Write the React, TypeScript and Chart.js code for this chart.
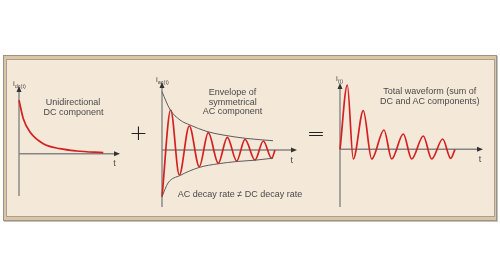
import React, { useEffect, useRef } from "react";
import { Chart, registerables } from "chart.js";

Chart.register(...registerables);

// ---------- DATA ----------
// Panel 1: unidirectional DC component
const dcTime = [0, 4.3, 11, 24.3, 41, 57.7, 84.3];
const dcCurrent = [53.4, 35, 21.7, 10, 5, 2.7, 1];

// Panel 2: symmetrical AC component and its envelope
const acTime = [0, 8.7, 17.3, 27.3, 37.3, 46.3, 56.3, 65.3, 74.7, 83, 93, 101.3, 109.7, 113];
const acCurrent = [-46.7, 40, -25, 24, -16.7, 17.3, -13.3, 12.7, -11, 10.7, -10, 9, -8.3, 0];
const envUpperTime = [0, 8, 18, 28, 45, 61, 85, 111];
const envUpper = [58.3, 40.5, 30, 25, 18.5, 15, 11.5, 9.3];
const envLowerTime = [0, 6, 18, 37, 56, 75, 93, 111];
const envLower = [-46.7, -33, -25.5, -17.5, -13.8, -11.5, -10.2, -8.2];

// Panel 3: total waveform
const totalTime = [0, 7.3, 13.3, 23.3, 31.7, 44, 51.7, 63.3, 71.7, 83.3, 91.7, 102.7, 110.7, 115];
const totalCurrent = [0, 64.3, -9.7, 38.6, -9.7, 19.3, -9.7, 15.3, -9.7, 13.3, -9.7, 10.3, -9, 0];

// Text
const dcText = ["Unidirectional", "DC component"];
const acText = ["Envelope of", "symmetrical", "AC component"];
const acNote = "AC decay rate \u2260 DC decay rate";
const totalText = ["Total waveform (sum of", "DC and AC components)"];

// ---------- STYLE ----------
const RED = "#d42020";
const ENV = "#5c5c5c";
const AXIS = "#858585";
const ARROW = "#333333";
const TEXT = "#4a4a4a";
const FONT = "'Liberation Sans', Arial, sans-serif";
const PAD = 6;

const pts = (xs: number[], ys: number[]) => xs.map((x, i) => ({ x, y: ys[i] }));

const axesPlugin = {
  id: "arrowAxes",
  beforeDatasetsDraw(chart: any) {
    const { ctx } = chart;
    const xs = chart.scales.x;
    const ys = chart.scales.y;
    const x0 = xs.getPixelForValue(0);
    const y0 = ys.getPixelForValue(0);
    const xEnd = xs.getPixelForValue(xs.max);
    const yTop = ys.getPixelForValue(ys.max);
    const yBot = ys.getPixelForValue(ys.min);
    ctx.save();
    ctx.strokeStyle = AXIS;
    ctx.lineWidth = 1.4;
    ctx.beginPath();
    ctx.moveTo(x0, yBot);
    ctx.lineTo(x0, yTop + 4);
    ctx.moveTo(x0, y0);
    ctx.lineTo(xEnd - 4, y0);
    ctx.stroke();
    ctx.fillStyle = ARROW;
    ctx.beginPath();
    ctx.moveTo(x0, yTop);
    ctx.lineTo(x0 - 2.5, yTop + 6);
    ctx.lineTo(x0 + 2.5, yTop + 6);
    ctx.closePath();
    ctx.fill();
    ctx.beginPath();
    ctx.moveTo(xEnd, y0);
    ctx.lineTo(xEnd - 6, y0 - 2.5);
    ctx.lineTo(xEnd - 6, y0 + 2.5);
    ctx.closePath();
    ctx.fill();
    ctx.restore();
  },
};

type PanelProps = {
  left: number;
  top: number;
  width: number;
  height: number;
  xMax: number;
  yMin: number;
  yMax: number;
  datasets: any[];
};

function Panel({ left, top, width, height, xMax, yMin, yMax, datasets }: PanelProps) {
  const ref = useRef<HTMLCanvasElement | null>(null);
  useEffect(() => {
    if (!ref.current) return;
    const chart = new Chart(ref.current, {
      type: "line",
      data: { datasets },
      options: {
        responsive: false,
        animation: false,
        layout: { padding: PAD },
        plugins: { legend: { display: false }, tooltip: { enabled: false } },
        events: [],
        scales: {
          x: { type: "linear", min: 0, max: xMax, display: false },
          y: { type: "linear", min: yMin, max: yMax, display: false },
        },
      },
      plugins: [axesPlugin],
    } as any);
    return () => chart.destroy();
  }, []);
  return (
    <canvas
      ref={ref}
      width={width + 2 * PAD}
      height={height + 2 * PAD}
      style={{ position: "absolute", left: left - PAD, top: top - PAD, width: width + 2 * PAD, height: height + 2 * PAD }}
    />
  );
}

const redLine = (data: any[]) => ({
  data,
  borderColor: RED,
  borderWidth: 1.7,
  pointRadius: 0,
  fill: false,
  cubicInterpolationMode: "monotone",
  clip: false,
});
const envLine = (data: any[]) => ({
  data,
  borderColor: ENV,
  borderWidth: 1,
  pointRadius: 0,
  fill: false,
  cubicInterpolationMode: "monotone",
  clip: false,
});

function Txt({ x, y, children, size = 9, color = TEXT, style = {} }: any) {
  return (
    <div
      style={{
        position: "absolute",
        left: x,
        top: y,
        transform: "translate(-50%, -50%)",
        whiteSpace: "nowrap",
        fontFamily: FONT,
        fontSize: size,
        color,
        lineHeight: 1,
        ...style,
      }}
    >
      {children}
    </div>
  );
}

function Label({ x, y, main, sub }: any) {
  return (
    <div style={{ position: "absolute", left: x, top: y, fontFamily: FONT, color: TEXT, whiteSpace: "nowrap", lineHeight: 1 }}>
      <span style={{ fontSize: 8 }}>{main}</span>
      <span style={{ fontSize: 5.5, position: "relative", top: 2 }}>{sub}</span>
    </div>
  );
}

export default function App() {
  return (
    <div style={{ position: "absolute", left: 0, top: 0, width: 500, height: 278, background: "#ffffff", overflow: "hidden" }}>
      {/* frame */}
      <div
        style={{
          position: "absolute",
          left: 3,
          top: 55,
          width: 494,
          height: 166,
          boxSizing: "border-box",
          border: "1px solid #9a9288",
          background: "#dcc5a3",
          boxShadow: "1px 1px 0 #c8c2ba",
        }}
      />
      <div
        style={{
          position: "absolute",
          left: 6,
          top: 59,
          width: 489,
          height: 158,
          boxSizing: "border-box",
          border: "1px solid #a8a096",
          background: "#f4e8d8",
        }}
      />

      {/* Panel 1 */}
      <Panel
        left={19}
        top={86}
        width={101}
        height={110}
        xMax={101}
        yMin={-42.3}
        yMax={67.7}
        datasets={[redLine(pts(dcTime, dcCurrent))]}
      />
      <Label x={13} y={73} main="i" sub="dc(t)" />
      <Txt x={73} y={102}>{dcText[0]}</Txt>
      <Txt x={73.5} y={112}>{dcText[1]}</Txt>
      <Txt x={114.5} y={162.5}>t</Txt>

      <Txt x={138.5} y={133} size={22} color="#222" style={{ fontFamily: "'DejaVu Sans', sans-serif", fontWeight: 300 }}>+</Txt>

      {/* Panel 2 */}
      <Panel
        left={162}
        top={82}
        width={135}
        height={125}
        xMax={135}
        yMin={-57}
        yMax={68}
        datasets={[
          envLine(pts(envUpperTime, envUpper)),
          envLine(pts(envLowerTime, envLower)),
          redLine(pts(acTime, acCurrent)),
        ]}
      />
      <Label x={156} y={69} main="i" sub="ac(t)" />
      <Txt x={232.5} y={91.5}>{acText[0]}</Txt>
      <Txt x={232.8} y={101.5}>{acText[1]}</Txt>
      <Txt x={232.5} y={111}>{acText[2]}</Txt>
      <Txt x={240} y={193.5}>{acNote}</Txt>
      <Txt x={291.7} y={160}>t</Txt>

      <Txt x={316} y={133.5} size={22} color="#222" style={{ fontFamily: "'DejaVu Sans', sans-serif", fontWeight: 300 }}>=</Txt>

      {/* Panel 3 */}
      <Panel
        left={340}
        top={83}
        width={143}
        height={124}
        xMax={143}
        yMin={-57.7}
        yMax={66.3}
        datasets={[redLine(pts(totalTime, totalCurrent))]}
      />
      <Label x={336} y={68} main="i" sub="(t)" />
      <Txt x={429.7} y={90.7}>{totalText[0]}</Txt>
      <Txt x={429.7} y={100.7}>{totalText[1]}</Txt>
      <Txt x={480} y={159}>t</Txt>
    </div>
  );
}
